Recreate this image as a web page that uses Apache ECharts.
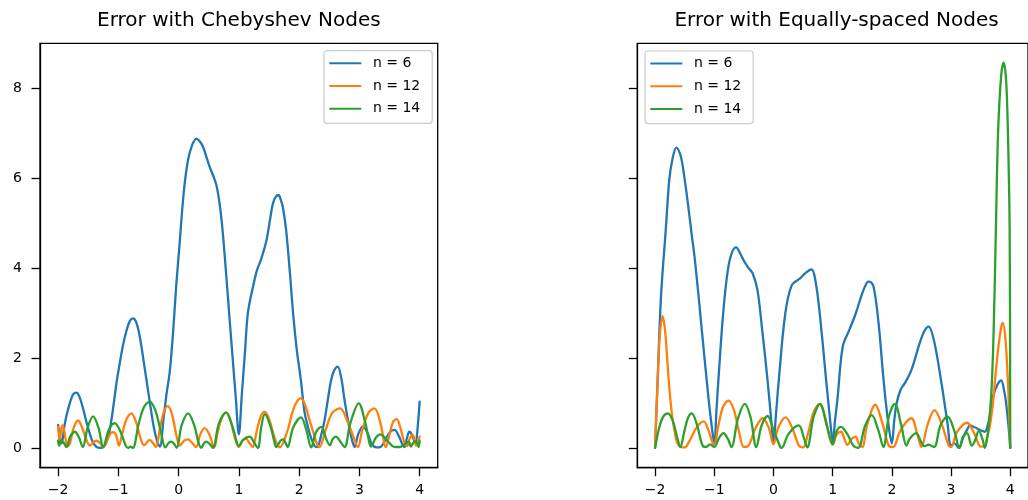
<!DOCTYPE html>
<html>
<head>
<meta charset="utf-8">
<script src="https://cdn.jsdelivr.net/npm/echarts@6/dist/echarts.min.js"></script>
<style>
  html, body { margin: 0; padding: 0; background: #fff; }
  #chart { width: 1028px; height: 500px; }
</style>
</head>
<body>
<div id="chart"></div>
<script>
// Panel titles, legend names and tick positions
const panelTitles = ['Error with Chebyshev Nodes', 'Error with Equally-spaced Nodes'];
const seriesNames = ['n = 6', 'n = 12', 'n = 14'];
const seriesColors = ['#1f77b4', '#ff7f0e', '#2ca02c'];
const xTicks = [-2, -1, 0, 1, 2, 3, 4];
const yTicks = [0, 2, 4, 6, 8];

// Absolute interpolation error, Chebyshev nodes: [x, |error|]
const cheb6 = [
  [-2.00, 0.51], [-1.97, 0.25], [-1.94, 0.10], [-1.90, 0.45], [-1.86, 0.72], [-1.80, 1.02],
  [-1.75, 1.19], [-1.695, 1.23], [-1.64, 1.12], [-1.58, 0.85], [-1.53, 0.58], [-1.47, 0.30],
  [-1.42, 0.12], [-1.36, 0.02], [-1.30, 0.00], [-1.24, 0.03], [-1.19, 0.15], [-1.14, 0.42],
  [-1.09, 0.85], [-1.03, 1.45], [-0.977, 1.88], [-0.92, 2.30], [-0.866, 2.60], [-0.81, 2.82],
  [-0.756, 2.88], [-0.70, 2.78], [-0.645, 2.48], [-0.59, 2.02], [-0.533, 1.51], [-0.47, 0.95],
  [-0.41, 0.45], [-0.35, 0.12], [-0.31, 0.03], [-0.25, 0.65], [-0.20, 1.20], [-0.146, 1.70],
  [-0.09, 2.60], [-0.04, 3.60], [0.02, 4.60], [0.06, 5.30], [0.101, 5.88], [0.156, 6.40],
  [0.22, 6.72], [0.295, 6.88], [0.35, 6.82], [0.405, 6.70], [0.46, 6.48], [0.516, 6.25],
  [0.57, 6.07], [0.627, 5.85], [0.68, 5.44], [0.73, 4.84], [0.79, 3.85], [0.85, 2.80],
  [0.90, 1.95], [0.95, 1.10], [1.00, 0.30], [1.05, 1.20], [1.10, 2.10], [1.15, 3.00],
  [1.234, 3.58], [1.30, 3.95], [1.37, 4.20], [1.456, 4.60], [1.52, 5.10], [1.566, 5.44],
  [1.62, 5.60], [1.66, 5.62], [1.70, 5.50], [1.73, 5.36], [1.785, 4.84], [1.85, 3.85],
  [1.90, 3.00], [1.96, 2.20], [2.03, 1.50], [2.09, 0.80], [2.15, 0.45], [2.20, 0.22],
  [2.26, 0.04], [2.30, 0.02], [2.36, 0.25], [2.42, 0.60], [2.48, 1.10], [2.53, 1.50],
  [2.58, 1.72], [2.64, 1.81], [2.70, 1.55], [2.75, 1.10], [2.81, 0.62], [2.87, 0.22],
  [2.92, 0.02], [2.98, 0.30], [3.06, 0.48], [3.14, 0.32], [3.20, 0.10], [3.28, 0.01],
  [3.35, 0.02], [3.42, 0.15], [3.50, 0.34], [3.58, 0.40], [3.66, 0.25], [3.72, 0.06],
  [3.75, 0.02], [3.79, 0.22], [3.83, 0.36], [3.87, 0.30], [3.93, 0.10], [3.97, 0.50],
  [4.00, 1.03]
];
const cheb12 = [
  [-2.00, 0.47], [-1.985, 0.25], [-1.975, 0.05], [-1.955, 0.35], [-1.93, 0.50], [-1.90, 0.40],
  [-1.87, 0.15], [-1.84, 0.04], [-1.80, 0.12], [-1.74, 0.45], [-1.668, 0.61], [-1.60, 0.45],
  [-1.53, 0.18], [-1.47, 0.05], [-1.42, 0.12], [-1.36, 0.16], [-1.30, 0.10], [-1.25, 0.02],
  [-1.17, 0.22], [-1.10, 0.35], [-1.04, 0.30], [-0.99, 0.05], [-0.93, 0.35], [-0.86, 0.65],
  [-0.783, 0.77], [-0.70, 0.55], [-0.63, 0.20], [-0.57, 0.06], [-0.48, 0.18], [-0.42, 0.10],
  [-0.38, 0.02], [-0.30, 0.50], [-0.24, 0.82], [-0.18, 0.93], [-0.11, 0.75], [-0.04, 0.30],
  [0.02, 0.05], [0.09, 0.16], [0.157, 0.19], [0.22, 0.12], [0.29, 0.02], [0.36, 0.30],
  [0.433, 0.44], [0.51, 0.30], [0.59, 0.01], [0.65, 0.35], [0.72, 0.68], [0.79, 0.78],
  [0.86, 0.60], [0.94, 0.20], [1.00, 0.02], [1.06, 0.16], [1.12, 0.20], [1.18, 0.10],
  [1.23, 0.02], [1.30, 0.40], [1.37, 0.72], [1.43, 0.80], [1.50, 0.65], [1.60, 0.20],
  [1.68, 0.01], [1.80, 0.35], [1.88, 0.75], [1.95, 1.00], [2.03, 1.10], [2.10, 0.95],
  [2.20, 0.50], [2.34, 0.02], [2.44, 0.40], [2.55, 0.78], [2.68, 0.88], [2.80, 0.60],
  [2.90, 0.25], [2.975, 0.02], [3.05, 0.40], [3.15, 0.78], [3.25, 0.88], [3.35, 0.55],
  [3.44, 0.02], [3.50, 0.30], [3.56, 0.58], [3.62, 0.64], [3.68, 0.45], [3.74, 0.15],
  [3.79, 0.04], [3.84, 0.22], [3.89, 0.29], [3.94, 0.05], [3.97, 0.12], [4.00, 0.25]
];
const cheb14 = [
  [-2.00, 0.16], [-1.984, 0.05], [-1.95, 0.17], [-1.91, 0.12], [-1.86, 0.02], [-1.80, 0.25],
  [-1.72, 0.36], [-1.65, 0.22], [-1.59, 0.02], [-1.51, 0.45], [-1.42, 0.70], [-1.33, 0.45],
  [-1.25, 0.02], [-1.16, 0.40], [-1.06, 0.55], [-0.96, 0.35], [-0.88, 0.06], [-0.84, 0.00],
  [-0.80, 0.03], [-0.76, 0.00], [-0.66, 0.55], [-0.57, 0.92], [-0.479, 1.03], [-0.39, 0.85],
  [-0.30, 0.40], [-0.22, 0.01], [-0.16, 0.12], [-0.12, 0.14], [-0.07, 0.08], [-0.03, 0.00],
  [0.05, 0.50], [0.157, 0.77], [0.26, 0.50], [0.33, 0.12], [0.376, 0.00], [0.42, 0.10],
  [0.46, 0.14], [0.52, 0.08], [0.57, 0.00], [0.67, 0.55], [0.79, 0.79], [0.90, 0.45],
  [0.97, 0.10], [1.00, 0.04], [1.07, 0.18], [1.18, 0.25], [1.26, 0.10], [1.317, 0.00],
  [1.37, 0.45], [1.43, 0.75], [1.52, 0.50], [1.60, 0.08], [1.624, 0.02], [1.69, 0.16],
  [1.735, 0.19], [1.78, 0.10], [1.81, 0.02], [1.90, 0.45], [2.03, 0.68], [2.12, 0.40],
  [2.20, 0.01], [2.28, 0.35], [2.367, 0.47], [2.45, 0.20], [2.51, 0.06], [2.56, 0.20],
  [2.61, 0.25], [2.68, 0.15], [2.755, 0.02], [2.85, 0.55], [2.99, 0.99], [3.10, 0.55],
  [3.20, 0.03], [3.27, 0.22], [3.35, 0.30], [3.45, 0.18], [3.55, 0.04], [3.60, 0.02],
  [3.67, 0.02], [3.75, 0.08], [3.82, 0.14], [3.853, 0.03], [3.92, 0.15], [3.96, 0.10],
  [3.984, 0.02], [4.00, 0.16]
];

// Absolute interpolation error, equally spaced nodes: [x, |error|]
const equi6 = [
  [-2.00, 0.00], [-1.956, 1.51], [-1.90, 3.36], [-1.82, 4.84], [-1.76, 5.96], [-1.71, 6.40],
  [-1.64, 6.68], [-1.58, 6.55], [-1.54, 6.33], [-1.46, 5.59], [-1.39, 4.84], [-1.32, 4.10],
  [-1.21, 2.62], [-1.10, 1.14], [-1.04, 0.45], [-1.00, 0.10], [-0.96, 0.90], [-0.93, 1.51],
  [-0.85, 2.99], [-0.77, 3.96], [-0.70, 4.35], [-0.63, 4.46], [-0.56, 4.32], [-0.49, 4.14],
  [-0.42, 4.00], [-0.35, 3.88], [-0.27, 3.51], [-0.19, 2.62], [-0.10, 1.51], [-0.03, 0.50],
  [0.00, 0.10], [0.04, 0.70], [0.09, 1.51], [0.20, 2.99], [0.31, 3.62], [0.45, 3.77],
  [0.55, 3.90], [0.64, 3.97], [0.725, 3.59], [0.81, 2.62], [0.89, 1.51], [0.974, 0.40],
  [1.00, 0.10], [1.04, 0.60], [1.085, 1.14], [1.17, 2.25], [1.28, 2.62], [1.39, 2.99],
  [1.50, 3.44], [1.58, 3.68], [1.62, 3.70], [1.69, 3.59], [1.776, 2.77], [1.86, 1.51],
  [1.94, 0.55], [2.00, 0.10], [2.04, 0.60], [2.08, 0.99], [2.15, 1.30], [2.22, 1.44],
  [2.33, 1.73], [2.47, 2.33], [2.55, 2.60], [2.62, 2.70], [2.71, 2.40], [2.83, 1.51],
  [2.94, 0.55], [3.00, 0.05], [3.06, 0.10], [3.13, 0.00], [3.21, 0.25], [3.27, 0.40],
  [3.32, 0.50], [3.38, 0.47], [3.49, 0.40], [3.57, 0.36], [3.62, 0.50], [3.66, 0.75],
  [3.71, 1.14], [3.78, 1.40], [3.847, 1.50], [3.90, 1.25], [3.93, 1.00], [3.97, 0.50],
  [4.00, 0.00]
];
const equi12 = [
  [-2.00, 0.00], [-1.96, 1.40], [-1.92, 2.50], [-1.873, 2.93], [-1.83, 2.60], [-1.79, 1.88],
  [-1.75, 1.20], [-1.71, 0.70], [-1.66, 0.30], [-1.62, 0.10], [-1.56, 0.02], [-1.50, 0.01],
  [-1.42, 0.15], [-1.30, 0.45], [-1.18, 0.59], [-1.10, 0.40], [-1.03, 0.12], [-1.00, 0.08],
  [-0.93, 0.50], [-0.85, 0.92], [-0.76, 1.05], [-0.67, 0.85], [-0.58, 0.35], [-0.50, 0.02],
  [-0.42, 0.05], [-0.30, 0.45], [-0.18, 0.66], [-0.08, 0.45], [0.00, 0.08], [0.08, 0.45],
  [0.205, 0.68], [0.33, 0.40], [0.43, 0.05], [0.50, 0.01], [0.58, 0.30], [0.68, 0.80],
  [0.78, 0.98], [0.86, 0.75], [0.94, 0.30], [1.00, 0.08], [1.07, 0.30], [1.14, 0.36],
  [1.20, 0.20], [1.25, 0.07], [1.32, 0.20], [1.39, 0.25], [1.44, 0.10], [1.50, 0.02],
  [1.58, 0.50], [1.72, 0.96], [1.84, 0.55], [1.94, 0.07], [2.00, 0.02], [2.05, 0.05],
  [2.15, 0.40], [2.33, 0.66], [2.43, 0.30], [2.50, 0.02], [2.60, 0.50], [2.72, 0.84],
  [2.85, 0.50], [2.96, 0.05], [3.00, 0.02], [3.10, 0.35], [3.27, 0.56], [3.40, 0.30],
  [3.50, 0.03], [3.57, 0.05], [3.60, 0.20], [3.65, 0.45], [3.70, 0.90], [3.75, 1.60],
  [3.80, 2.25], [3.85, 2.70], [3.876, 2.78], [3.92, 2.40], [3.96, 1.51], [3.98, 0.80],
  [4.00, 0.00]
];
const equi14 = [
  [-2.00, 0.00], [-1.93, 0.45], [-1.86, 0.70], [-1.785, 0.77], [-1.70, 0.60], [-1.62, 0.20],
  [-1.574, 0.02], [-1.50, 0.40], [-1.44, 0.68], [-1.38, 0.77], [-1.30, 0.55], [-1.20, 0.06],
  [-1.14, 0.02], [-1.07, 0.08], [-1.00, 0.02], [-0.92, 0.22], [-0.845, 0.33], [-0.77, 0.20],
  [-0.71, 0.02], [-0.60, 0.65], [-0.485, 0.98], [-0.39, 0.70], [-0.29, 0.02], [-0.20, 0.50],
  [-0.10, 0.71], [0.00, 0.40], [0.12, 0.01], [0.14, 0.00], [0.25, 0.30], [0.426, 0.50],
  [0.52, 0.20], [0.571, 0.01], [0.68, 0.70], [0.786, 0.98], [0.90, 0.50], [1.00, 0.08],
  [1.07, 0.38], [1.14, 0.47], [1.25, 0.30], [1.35, 0.05], [1.429, 0.00], [1.55, 0.50],
  [1.66, 0.73], [1.77, 0.40], [1.857, 0.02], [1.95, 0.70], [2.05, 0.98], [2.16, 0.50],
  [2.246, 0.05], [2.30, 0.20], [2.41, 0.33], [2.50, 0.12], [2.55, 0.04], [2.62, 0.07],
  [2.714, 0.02], [2.82, 0.50], [2.94, 0.70], [3.05, 0.40], [3.143, 0.00], [3.20, 0.25],
  [3.27, 0.33], [3.35, 0.05], [3.40, 0.15], [3.47, 0.38], [3.53, 0.20], [3.571, 0.00],
  [3.62, 0.30], [3.68, 1.20], [3.72, 2.62], [3.757, 4.84], [3.796, 7.07], [3.85, 8.33],
  [3.89, 8.57], [3.93, 8.18], [3.96, 7.07], [3.99, 4.84], [4.00, 0.00]
];

const panels = [[cheb6, cheb12, cheb14], [equi6, equi12, equi14]];

const FONT = 'DejaVu Sans';
const minus = v => String(v).replace('-', '\u2212');

const chart = echarts.init(document.getElementById('chart'), null, { renderer: 'canvas' });

const gridBox = [
  { left: 40, top: 43.3, width: 397.7, height: 424.4 },
  { left: 637.3, top: 43.3, width: 398.5, height: 424.4 }
];

const option = {
  animation: false,
  backgroundColor: '#ffffff',
  title: panelTitles.map((t, i) => ({
    text: t,
    left: gridBox[i].left + gridBox[i].width / 2,
    top: 11,
    textAlign: 'center',
    padding: 0,
    textStyle: { fontFamily: FONT, fontSize: 20, fontWeight: 'normal', color: '#000' }
  })),
  grid: gridBox.map(g => Object.assign({
    show: true, borderColor: '#000', borderWidth: 1.3, backgroundColor: 'transparent',
    containLabel: false
  }, g)),
  legend: [
    { left: 324, top: 50.7 },
    { left: 645, top: 51 }
  ].map(pos => Object.assign({
    data: seriesNames,
    orient: 'vertical',
    icon: 'rect',
    itemWidth: 32,
    itemHeight: 2,
    itemGap: 6.7,
    padding: [4.6, 12, 6.6, 5.3],
    backgroundColor: 'rgba(255,255,255,0.8)',
    borderColor: '#cccccc',
    borderWidth: 1.2,
    borderRadius: 3,
    selectedMode: false,
    textStyle: { fontFamily: FONT, fontSize: 14, color: '#000', lineHeight: 16, padding: [0, 0, 0, 6.6] }
  }, pos)),
  xAxis: [0, 1].map(i => ({
    type: 'value',
    gridIndex: i,
    min: -2.3,
    max: 4.3,
    splitLine: { show: false },
    axisLine: { show: true, onZero: false, lineStyle: { color: '#000', width: 1.3 } },
    axisTick: { show: true, length: 8.5, customValues: xTicks, lineStyle: { color: '#000', width: 1.3 } },
    axisLabel: {
      show: true, customValues: xTicks, margin: 16, formatter: minus,
      fontFamily: FONT, fontSize: 14, color: '#000'
    }
  })),
  yAxis: [0, 1].map(i => ({
    type: 'value',
    gridIndex: i,
    min: -0.44,
    max: 9.0,
    splitLine: { show: false },
    axisLine: { show: true, onZero: false, lineStyle: { color: '#000', width: 1.3 } },
    axisTick: { show: true, length: 8.5, customValues: yTicks, lineStyle: { color: '#000', width: 1.3 } },
    axisLabel: {
      show: i === 0, customValues: yTicks, margin: 18, formatter: minus,
      fontFamily: FONT, fontSize: 14, color: '#000'
    }
  })),
  series: []
};

panels.forEach((sets, p) => {
  sets.forEach((data, k) => {
    option.series.push({
      name: seriesNames[k],
      type: 'line',
      xAxisIndex: p,
      yAxisIndex: p,
      data: data,
      symbol: 'none',
      showSymbol: false,
      smooth: 0.35,
      clip: true,
      color: seriesColors[k],
      lineStyle: { color: seriesColors[k], width: 2.3, cap: 'round', join: 'round' },
      z: 2 + k
    });
  });
});

chart.setOption(option);
</script>
</body>
</html>
